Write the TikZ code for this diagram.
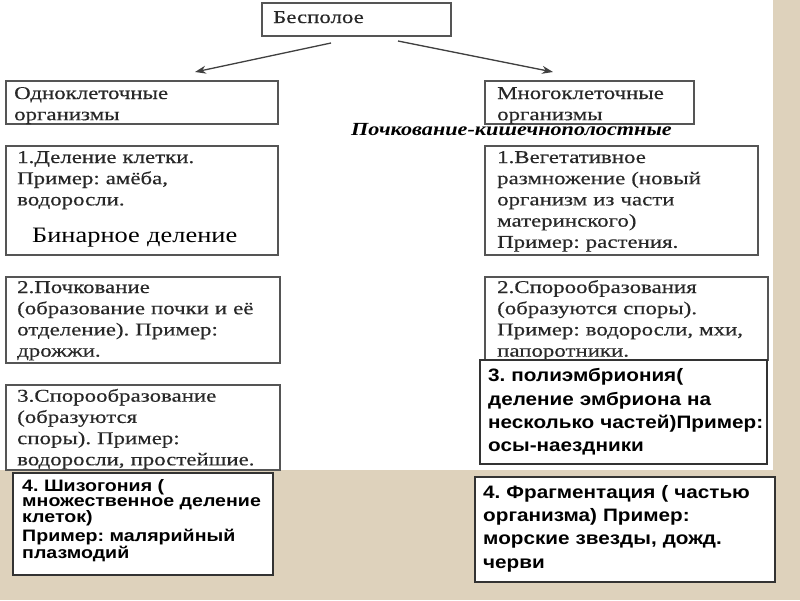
\documentclass[tikz,border=0pt]{standalone}
\usepackage{fontspec}
\setmainfont{Liberation Serif}
\newfontfamily\boxserif{Liberation Serif}[FakeStretch=1.27,FakeBold=0.4]
\newfontfamily\itserif{Liberation Serif}[FakeStretch=1.2]
\newfontfamily\bigserif{Liberation Serif}[FakeStretch=1.2]
\newfontfamily\boxsans{Liberation Sans}[FakeStretch=1.15]
\newfontfamily\smallsans{Liberation Sans}[FakeStretch=1.18]
\usetikzlibrary{arrows.meta,calc}
\definecolor{paper}{RGB}{222,210,188}
\definecolor{boxline}{RGB}{85,85,85}
\definecolor{serifink}{RGB}{40,40,40}
\tikzset{
  frame/.style={draw=boxline,line width=1.4pt,fill=white,anchor=north west,inner sep=0pt,outer sep=0pt},
  sframe/.style={draw=black!80,line width=1.2pt,fill=white,anchor=north west,inner sep=0pt,outer sep=0pt},
  stxt/.style={anchor=base west,inner sep=0pt,text width=320pt,align=left,text=serifink,
    font=\boxserif\fontsize{18}{21.2}\selectfont},
  btxt/.style={anchor=base west,inner sep=0pt,text width=320pt,align=left,text=black,
    font=\boxsans\bfseries\fontsize{18}{23.3}\selectfont},
  arr/.style={draw=black!75,line width=1.3pt,-{Stealth[length=11pt,width=8pt]}}
}
\begin{document}
\frenchspacing
\begin{tikzpicture}[x=1pt,y=-1pt]
\useasboundingbox (0,0) rectangle (800,600);
\fill[paper] (0,0) rectangle (800,600);
\fill[white] (0,0) rectangle (773,470);

% top
\node[frame,minimum width=189pt,minimum height=33pt] (top) at (262,3) {};
\node[stxt] (topt) at (273,23) {Бесполое};

% level 1
\node[frame,minimum width=272pt,minimum height=43pt] (uni) at (6,81) {};
\node[stxt] (unit) at (14,99) {Одноклеточные\\организмы};
\node[frame,minimum width=209pt,minimum height=43pt] (multi) at (485,81) {};
\node[stxt] (multit) at (497,99) {Многоклеточные\\организмы};

\node[stxt,text width=420pt,text=black,font=\itserif\bfseries\itshape\fontsize{18.5}{21}\selectfont] (bud) at (351,135.5) {Почкование-кишечнополостные};

% left column
\node[frame,minimum width=272pt,minimum height=109pt] (l1) at (6,146) {};
\node[stxt] (l1t) at (17,163) {1.Деление клетки.\\Пример: амёба,\\водоросли.};
\node[stxt,text=black,font=\bigserif\fontsize{22}{25}\selectfont] (bin) at (32,242) {Бинарное деление};

\node[frame,minimum width=274pt,minimum height=86pt] (l2) at (6,277) {};
\node[stxt] (l2t) at (17,293) {2.Почкование\\(образование почки и её\\отделение). Пример:\\дрожжи.};

\node[frame,minimum width=274pt,minimum height=85pt] (l3) at (6,385) {};
\node[stxt] (l3t) at (17,401.7) {3.Спорообразование\\(образуются\\споры). Пример:\\водоросли, простейшие.};

\node[sframe,minimum width=260pt,minimum height=102pt] (l4) at (13,473) {};
\node[btxt,font=\smallsans\bfseries\fontsize{16.6}{15.3}\selectfont] (l4t) at (22,491) {4. Шизогония (\\множественное деление\\клеток)\\[2pt]Пример: малярийный\\плазмодий};

% right column
\node[frame,minimum width=273pt,minimum height=109pt] (r1) at (485,146) {};
\node[stxt] (r1t) at (497,163) {1.Вегетативное\\размножение (новый\\организм из части\\материнского)\\Пример: растения.};

\node[frame,minimum width=283pt,minimum height=83pt] (r2) at (485,277) {};
\node[stxt] (r2t) at (497,293) {2.Спорообразования\\(образуются споры).\\Пример: водоросли, мхи,\\папоротники.};

\node[sframe,minimum width=287pt,minimum height=104pt] (r3) at (480,360) {};
\node[btxt] (r3t) at (488,381.7) {3. полиэмбриония(\\деление эмбриона на\\несколько частей)Пример:\\осы-наездники};

\node[sframe,minimum width=300pt,minimum height=105pt] (r4) at (475,477) {};
\node[btxt] (r4t) at (483,498.3) {4. Фрагментация ( частью\\организма) Пример:\\морские звезды, дожд.\\черви};

% arrows
\draw[arr] ([shift={(-25.5,7)}]top.south) -- ([shift={(53,-9)}]uni.north);
\draw[arr] ([shift={(41.5,5)}]top.south) -- ([shift={(-36.5,-9)}]multi.north);
\end{tikzpicture}
\end{document}
